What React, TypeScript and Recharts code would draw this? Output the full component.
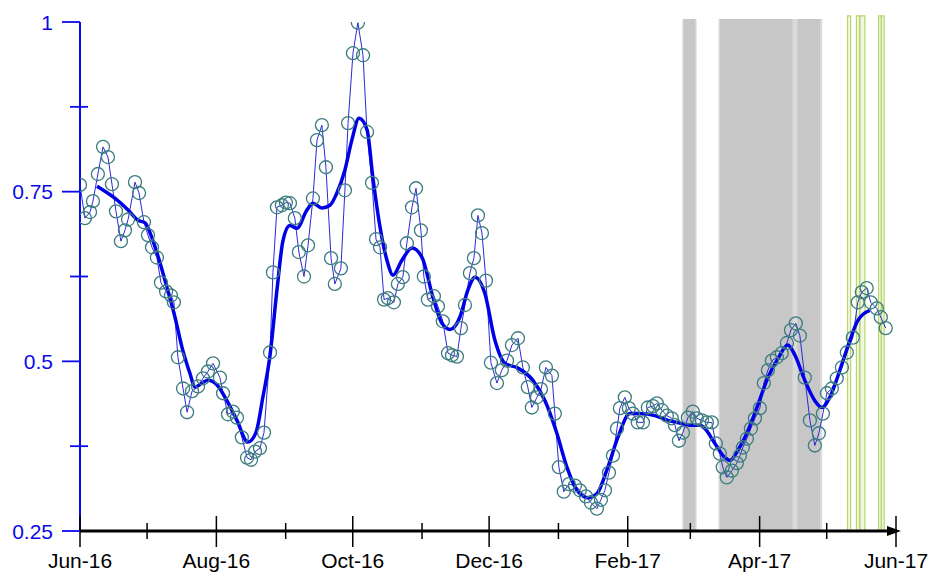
import React from "react";
import { ComposedChart, Line, Scatter, XAxis, YAxis, ReferenceArea } from "recharts";

// days counted from 1 Jun 2016
const MONTH_DAYS = [0, 30, 61, 92, 122, 153, 183, 214, 245, 273, 304, 334, 365];
const MONTH_LABELS = [
  "Jun-16", "Jul-16", "Aug-16", "Sep-16", "Oct-16", "Nov-16", "Dec-16",
  "Jan-17", "Feb-17", "Mar-17", "Apr-17", "May-17", "Jun-17",
];
const Y_TICKS = [0.25, 0.375, 0.5, 0.625, 0.75, 0.875, 1];
const Y_LABELS = ["0.25", "", "0.5", "", "0.75", "", "1"];

const RAW_DAYS = [
  0, 2.2, 4.5, 5.8, 8.0, 10.3, 12.5, 14.3, 16.1, 18.3, 20.1, 21.5, 24.6, 26.4, 28.6, 30.4,
  32.2, 34.4, 36.2, 38.5, 40.7, 42.0, 43.8, 46.1, 47.9, 50.1, 52.8, 55.0, 57.2, 59.5, 62.6,
  64.0, 66.2, 68.4, 70.2, 72.4, 74.7, 76.5, 78.3, 80.5, 82.3, 85.0, 86.3, 88.1, 90.3, 92.1,
  93.9, 96.1, 97.9, 100.2, 102.0, 104.2, 106.0, 108.2, 110.0, 112.3, 114.0, 116.7, 118.5,
  119.9, 122.1, 124.3, 126.6, 128.4, 130.6, 132.4, 134.2, 136.0, 137.7, 140.4, 142.2, 144.4,
  146.2, 148.5, 150.3, 152.5, 153.8, 155.6, 158.3, 160.1, 162.3, 164.6, 166.4, 168.6, 170.4,
  172.2, 174.4, 176.2, 178.0, 179.8, 181.6, 183.8, 186.5, 188.7, 191.0, 193.2, 195.9, 198.1,
  200.3, 202.1, 204.4, 206.2, 208.4, 211.1, 212.4, 214.2, 216.4, 218.7, 221.4, 223.6, 226.3,
  228.5, 231.2, 233.0, 234.8, 236.6, 238.4, 240.2, 241.5, 243.7, 245.5, 247.3, 249.5, 251.8,
  254.0, 256.3, 258.0, 260.3, 262.5, 264.7, 266.1, 267.9, 269.7, 271.9, 274.1, 275.9, 278.2,
  280.4, 282.6, 284.4, 286.2, 287.5, 289.3, 291.6, 293.8, 295.2, 296.5, 298.3, 300.1, 301.9,
  304.1, 305.9, 307.7, 309.5, 311.7, 313.9, 316.2, 318.0, 320.2, 322.0, 324.2, 326.5, 328.7,
  330.5, 332.3, 334.1, 336.3, 338.5, 340.8, 343.0, 345.7, 347.9, 349.7, 351.9, 353.7, 356.4,
  358.2, 360.4,
];
const RAW_VALUES = [
  0.76, 0.711, 0.72, 0.736, 0.776, 0.816, 0.801, 0.761, 0.721, 0.677, 0.693, 0.709, 0.764,
  0.748, 0.705, 0.686, 0.668, 0.653, 0.616, 0.603, 0.597, 0.587, 0.506, 0.46, 0.425, 0.456,
  0.463, 0.475, 0.485, 0.497, 0.476, 0.453, 0.422, 0.426, 0.417, 0.388, 0.358, 0.355, 0.367,
  0.372, 0.395, 0.513, 0.631, 0.727, 0.73, 0.734, 0.733, 0.711, 0.661, 0.625, 0.671, 0.74,
  0.826, 0.848, 0.786, 0.652, 0.614, 0.637, 0.752, 0.851, 0.954, 0.999, 0.951, 0.838, 0.763,
  0.68, 0.668, 0.591, 0.593, 0.587, 0.614, 0.624, 0.674, 0.727, 0.755, 0.693, 0.625, 0.591,
  0.596, 0.581, 0.559, 0.512, 0.509, 0.507, 0.549, 0.583, 0.63, 0.652, 0.715, 0.689, 0.619,
  0.498, 0.468, 0.487, 0.501, 0.524, 0.534, 0.491, 0.462, 0.432, 0.447, 0.459, 0.491, 0.479,
  0.423, 0.344, 0.308, 0.319, 0.317, 0.31, 0.301, 0.292, 0.283, 0.296, 0.31, 0.336, 0.361,
  0.401, 0.431, 0.447, 0.431, 0.423, 0.41, 0.41, 0.432, 0.434, 0.438, 0.428, 0.42, 0.416,
  0.406, 0.383, 0.395, 0.417, 0.426, 0.416, 0.413, 0.41, 0.41, 0.379, 0.364, 0.344, 0.329,
  0.339, 0.35, 0.361, 0.373, 0.386, 0.401, 0.416, 0.431, 0.468, 0.487, 0.501, 0.506, 0.512,
  0.527, 0.546, 0.556, 0.538, 0.476, 0.413, 0.376, 0.394, 0.423, 0.453, 0.46, 0.475, 0.491,
  0.513, 0.535, 0.587, 0.602, 0.608, 0.587, 0.578, 0.565, 0.549,
];

const SMOOTH_DAYS = [
  7.6, 15.7, 21.5, 25.9, 29.1, 32.6, 35.8, 38.9, 42.5, 45.6, 49.2, 51.4, 54.6, 57.2, 61.3,
  65.7, 70.2, 75.1, 78.7, 81.8, 85.0, 88.1, 90.8, 93.9, 97.0, 101.5, 104.2, 108.2, 111.8,
  114.9, 118.5, 121.6, 124.8, 128.4, 131.0, 134.2, 137.3, 140.0, 144.0, 148.5, 153.0, 157.9,
  161.9, 165.5, 169.9, 173.5, 176.7, 181.1, 185.6, 190.1, 195.9, 202.6, 208.0, 213.3, 217.8,
  222.3, 227.2, 231.2, 236.1, 240.6, 246.0, 250.4, 257.2, 263.0, 268.3, 272.8, 277.3, 279.5,
  284.0, 288.5, 290.7, 294.3, 298.3, 302.8, 307.7, 312.2, 316.6, 319.8, 324.2, 328.7, 331.8,
  335.4, 339.9, 344.4, 347.9, 353.3,
];
const SMOOTH_VALUES = [
  0.758, 0.74, 0.723, 0.708, 0.704, 0.678, 0.645, 0.609, 0.565, 0.521, 0.482, 0.462, 0.468,
  0.472, 0.465, 0.442, 0.413, 0.381, 0.395, 0.447, 0.509, 0.605, 0.678, 0.7, 0.696, 0.723,
  0.733, 0.726, 0.73, 0.748, 0.782, 0.826, 0.858, 0.841, 0.771, 0.698, 0.649, 0.627, 0.649,
  0.667, 0.653, 0.594, 0.556, 0.547, 0.565, 0.605, 0.624, 0.6, 0.531, 0.497, 0.49, 0.472,
  0.442, 0.394, 0.344, 0.31, 0.299, 0.305, 0.344, 0.388, 0.423, 0.423, 0.42, 0.413, 0.409,
  0.406, 0.406, 0.401, 0.379, 0.358, 0.354, 0.369, 0.394, 0.432, 0.476, 0.504, 0.524, 0.509,
  0.472, 0.442, 0.432, 0.447, 0.487, 0.531, 0.56, 0.575,
];

// shaded periods (day ranges)
const GREY_OUTER = [[269.4, 275.8], [285.6, 332.0]];
const GREY_INNER = [[270.0, 275.2], [286.2, 318.7], [320.9, 331.0]];
const GREEN_SPANS = [[343.3, 344.7], [347.3, 348.7], [348.9, 351.1], [357.2, 358.4], [358.5, 359.7]];

const raw = RAW_DAYS.map((day, i) => ({ day, v: RAW_VALUES[i] }));
const smooth = SMOOTH_DAYS.map((day, i) => ({ day, v: SMOOTH_VALUES[i] }));

const BLUE = "#0a0ae8";
const FONT = "'Liberation Sans', Arial, sans-serif";

function XTick(props: any) {
  const { x, y, index } = props;
  const major = index % 2 === 0;
  const last = index === MONTH_DAYS.length - 1;
  return (
    <g>
      <line x1={x} x2={x} y1={major ? y - 15 : y - 8} y2={major ? y + 16 : y + 8} stroke="#000" strokeWidth={1.5} />
      {last && <polygon points={`${x - 9},${y - 5} ${x + 5},${y} ${x - 9},${y + 5}`} fill="#000" />}
      {major && (
        <text x={x} y={y + 37} textAnchor="middle" fontSize={21} fontFamily={FONT} fill="#000">
          {MONTH_LABELS[index]}
        </text>
      )}
    </g>
  );
}

function YTick(props: any) {
  const { x, y, index } = props;
  const major = index % 2 === 0;
  return (
    <g>
      <line x1={major ? x - 18 : x - 10} x2={major ? x : x + 8} y1={y} y2={y} stroke={BLUE} strokeWidth={1.8} />
      {major && (
        <text x={x - 27} y={y} dy="0.36em" textAnchor="end" fontSize={21} fontFamily={FONT} fill={BLUE}>
          {Y_LABELS[index]}
        </text>
      )}
    </g>
  );
}

const Ring = (props: any) => (
  <circle cx={props.cx} cy={props.cy} r={6.5} fill="none" stroke="#3d7c80" strokeWidth={1.3} />
);

export default function App() {
  return (
    <div style={{ position: "absolute", left: 0, top: 0, width: 930, height: 573, background: "#fff" }}>
      <ComposedChart width={930} height={573} margin={{ top: 22, right: 34, bottom: 0, left: 0 }}>
        <XAxis
          type="number"
          dataKey="day"
          domain={[0, 365]}
          ticks={MONTH_DAYS}
          interval={0}
          height={42}
          tickLine={false}
          tickSize={0}
          tickMargin={0}
          axisLine={{ stroke: "#000", strokeWidth: 3 }}
          tick={(p: any) => <XTick {...p} />}
          allowDataOverflow
        />
        <YAxis
          type="number"
          dataKey="v"
          domain={[0.25, 1]}
          ticks={Y_TICKS}
          interval={0}
          width={80}
          tickLine={false}
          tickSize={0}
          tickMargin={0}
          axisLine={{ stroke: BLUE, strokeWidth: 2 }}
          tick={(p: any) => <YTick {...p} />}
          allowDataOverflow
        />
        {GREY_OUTER.map(([a, b], i) => (
          <ReferenceArea key={`go${i}`} x1={a} x2={b} y1={0.25} y2={1.0045} fill="#dadada" fillOpacity={1} stroke="none" ifOverflow="visible" />
        ))}
        {GREY_INNER.map(([a, b], i) => (
          <ReferenceArea key={`gi${i}`} x1={a} x2={b} y1={0.25} y2={1.0045} fill="#c7c7c7" fillOpacity={1} stroke="none" ifOverflow="visible" />
        ))}
        {GREEN_SPANS.map(([a, b], i) => (
          <ReferenceArea key={`gr${i}`} x1={a} x2={b} y1={0.25} y2={1.009} fill="#f1f7e1" fillOpacity={1} stroke="#b8d56e" strokeWidth={1.2} ifOverflow="visible" />
        ))}
        <Scatter data={raw} dataKey="v" shape={Ring} isAnimationActive={false} />
        <Line data={raw} dataKey="v" type="linear" stroke="#2a2ad8" strokeWidth={1} dot={false} isAnimationActive={false} />
        <Line data={smooth} dataKey="v" type="monotone" stroke="#0000e6" strokeWidth={3.5} dot={false} isAnimationActive={false} />
      </ComposedChart>
    </div>
  );
}
